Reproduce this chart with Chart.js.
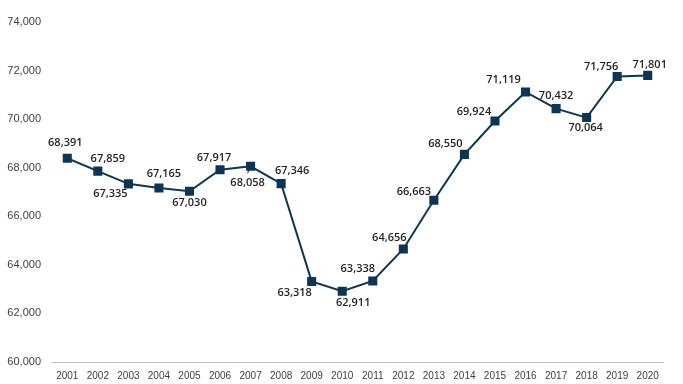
<!DOCTYPE html>
<html>
<head>
<meta charset="utf-8">
<script src="https://cdn.jsdelivr.net/npm/chart.js@4"></script>
<style>
html,body{margin:0;padding:0;background:#fff;}
#wrap{width:683px;height:384px;position:relative;}
</style>
</head>
<body>
<div id="wrap"><canvas id="c" width="683" height="384"></canvas></div>
<script>
const years = ['2001','2002','2003','2004','2005','2006','2007','2008','2009','2010','2011','2012','2013','2014','2015','2016','2017','2018','2019','2020'];
const values = [68391,67859,67335,67165,67030,67917,68058,67346,63318,62911,63338,64656,66663,68550,69924,71119,70432,70064,71756,71801];
const yTicks = [60000,62000,64000,66000,68000,70000,72000,74000];

// label placement relative to each point (pixels)
const labelOffsets = [[-2,-15],[10,-12],[-18,10],[5,-14],[0,12],[-6,-12],[-3,17],[11,-13],[-17,11],[11,12],[-15,-12],[-14,-11],[-20,-8],[-19,-10],[-21,-9],[-22,-12],[0,-13],[-1,10],[-16,-10],[2,-11]];

const fmt = v => v.toLocaleString('en-US');

const labelPlugin = {
  id: 'valueLabels',
  afterDatasetsDraw(chart) {
    const ctx = chart.ctx;
    const meta = chart.getDatasetMeta(0);
    ctx.save();
    ctx.font = '600 11px "Open Sans", sans-serif';
    ctx.fillStyle = '#1f1f1f';
    ctx.textAlign = 'center';
    ctx.textBaseline = 'middle';
    meta.data.forEach((pt, i) => {
      const o = labelOffsets[i];
      ctx.fillText(fmt(values[i]), pt.x + o[0], pt.y + o[1]);
      if (i === 6) {
        ctx.strokeStyle = '#1f1f1f';
        ctx.lineWidth = 1;
        ctx.beginPath();
        ctx.moveTo(pt.x - 1, pt.y + 2);
        ctx.lineTo(pt.x - 3, pt.y + 7);
        ctx.stroke();
      }
    });
    ctx.restore();
  }
};

new Chart(document.getElementById('c'), {
  type: 'line',
  data: {
    labels: years,
    datasets: [{
      data: values,
      borderColor: '#0e3552',
      backgroundColor: '#0e3552',
      borderWidth: 2,
      pointStyle: 'rect',
      pointRadius: 5,
      pointHoverRadius: 5,
      tension: 0
    }]
  },
  options: {
    responsive: false,
    animation: false,
    layout: { padding: { top: 22, right: 20, bottom: 0, left: 0 } },
    plugins: { legend: { display: false }, tooltip: { enabled: false } },
    scales: {
      x: {
        offset: true,
        afterFit: s => { s.height = 22; },
        grid: { display: false, drawTicks: false },
        border: { display: true, color: '#bfbfbf', width: 1 },
        ticks: { color: '#404040', font: { family: '"Liberation Sans", sans-serif', size: 10 }, padding: 8, maxRotation: 0, autoSkip: false }
      },
      y: {
        min: 60000, max: 74000,
        afterFit: s => { s.width = 52; },
        afterBuildTicks: s => { s.ticks = yTicks.map(v => ({ value: v })); },
        grid: { display: false, drawTicks: false },
        border: { display: false },
        ticks: { color: '#404040', font: { family: '"Liberation Sans", sans-serif', size: 11 }, padding: 11, callback: v => fmt(v) }
      }
    }
  },
  plugins: [labelPlugin]
});
</script>
</body>
</html>
